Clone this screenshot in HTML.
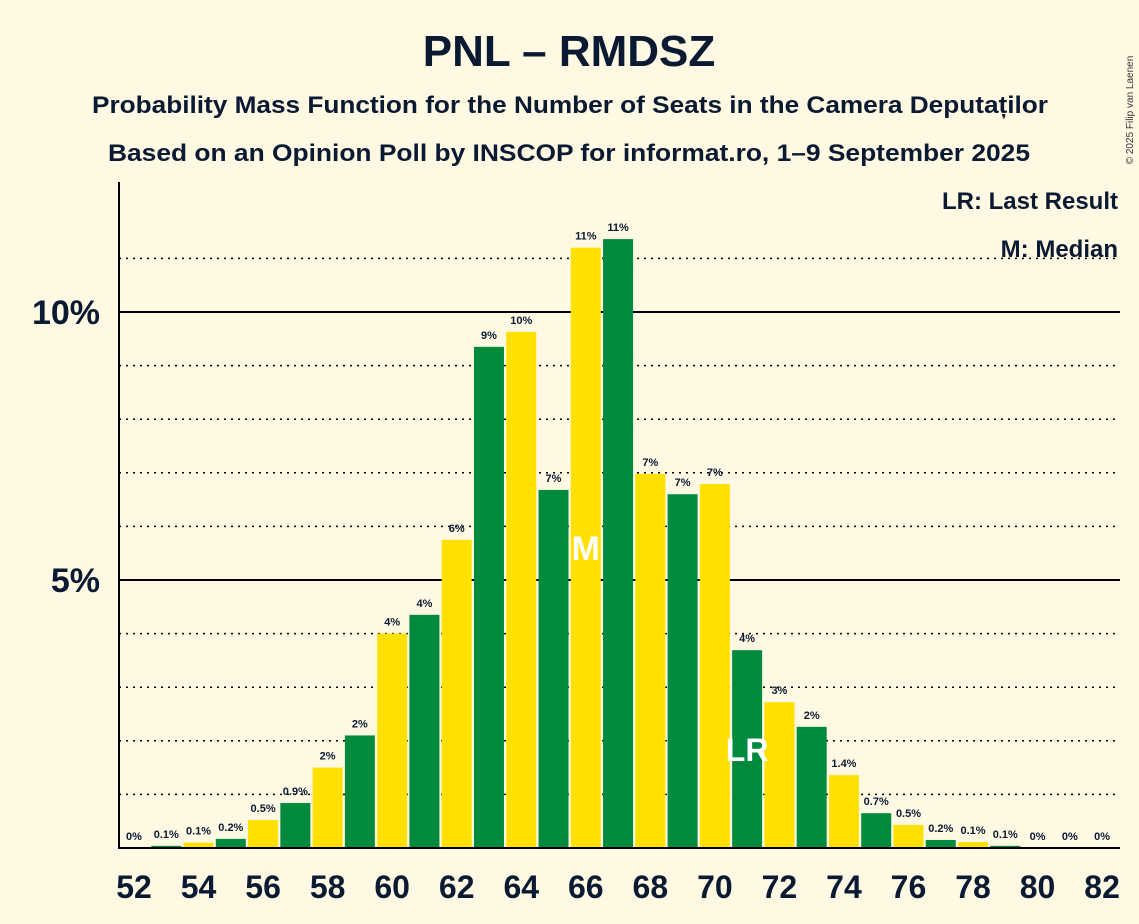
<!DOCTYPE html>
<html><head><meta charset="utf-8"><style>
body{margin:0;background:#fff8e3;}
svg{display:block;font-family:"Liberation Sans",sans-serif;}
</style></head><body>
<svg id="chart" width="1139" height="924" viewBox="0 0 1139 924">
<rect width="1139" height="924" fill="#fff8e3"/>
<text x="569" y="66" text-anchor="middle" font-size="44" font-weight="bold" fill="#0a1a33">PNL – RMDSZ</text>
<text x="570" y="113" text-anchor="middle" font-size="24" font-weight="bold" fill="#0a1a33" textLength="956" lengthAdjust="spacingAndGlyphs">Probability Mass Function for the Number of Seats in the Camera Deputaților</text>
<text x="569" y="161" text-anchor="middle" font-size="24" font-weight="bold" fill="#0a1a33" textLength="922" lengthAdjust="spacingAndGlyphs">Based on an Opinion Poll by INSCOP for informat.ro, 1–9 September 2025</text>
<text x="1133" y="110" font-size="10" fill="#333" transform="rotate(-90 1133 110)" text-anchor="middle">© 2025 Filip van Laenen</text>
<text x="1118" y="209" text-anchor="end" font-size="24" font-weight="bold" fill="#0a1a33">LR: Last Result</text>
<text x="1118" y="257" text-anchor="end" font-size="24" font-weight="bold" fill="#0a1a33">M: Median</text>
<g id="grid"></g><g id="bars"></g><g id="labels"></g>
<line x1="119" y1="182" x2="119" y2="849" stroke="#000" stroke-width="2"/>
<line x1="118" y1="848" x2="1120" y2="848" stroke="#000" stroke-width="2"/>
</svg>
<script>
const seats=[52,53,54,55,56,57,58,59,60,61,62,63,64,65,66,67,68,69,70,71,72,73,74,75,76,77,78,79,80,81,82];
const probs=[0,0.04,0.1,0.17,0.52,0.84,1.5,2.1,4.0,4.35,5.75,9.35,9.63,6.68,11.2,11.36,6.98,6.6,6.79,3.69,2.72,2.26,1.36,0.65,0.43,0.15,0.11,0.04,0,0,0];
const valueLabels=["0%","0.1%","0.1%","0.2%","0.5%","0.9%","2%","2%","4%","4%","6%","9%","10%","7%","11%","11%","7%","7%","7%","4%","3%","2%","1.4%","0.7%","0.5%","0.2%","0.1%","0.1%","0%","0%","0%"];
const xTicks=[52,54,56,58,60,62,64,66,68,70,72,74,76,78,80,82];
const gridValues=[1,2,3,4,5,6,7,8,9,10,11];
const yTickLabels=[[5,"5%"],[10,"10%"]];
const medianSeat=66, lastResultSeat=71;
const NS="http://www.w3.org/2000/svg";
const x=s=>134+(s-52)*32.27;
const y=v=>848-v*53.6;
function mk(t,a,p){const e=document.createElementNS(NS,t);for(const k in a)e.setAttribute(k,a[k]);p.appendChild(e);return e;}
const grid=document.getElementById('grid'),bars=document.getElementById('bars'),labels=document.getElementById('labels'),svg=document.getElementById('chart');
gridValues.forEach(g=>{const solid=g%5===0;
const l=mk('line',{x1:119,x2:1120,y1:y(g),y2:y(g),stroke:'#000','stroke-width':solid?2:1.5,'stroke-dasharray':solid?'':'2,5'},grid);

});
yTickLabels.forEach(([v,t])=>{const e=mk('text',{x:100,y:y(v)+12,'text-anchor':'end','font-size':34,'font-weight':'bold',fill:'#0a1a33'},svg);e.textContent=t;

});
seats.forEach((s,i)=>{const v=probs[i];const h=v*53.6;
const r=mk('rect',{x:x(s)-15,y:848-h,width:30,height:h,fill:i%2===0?'#ffe000':'#008a3e'},bars);


const t=mk('text',{x:x(s),y:y(v)-8,'text-anchor':'middle','font-size':11,'font-weight':'bold',fill:'#0a1a33'},labels);t.textContent=valueLabels[i];


if(s===medianSeat){const m=mk('text',{x:x(s),y:y(v/2)+12,'text-anchor':'middle','font-size':34,'font-weight':'bold',fill:'#fff'},labels);m.textContent='M';

}
if(s===lastResultSeat){const m=mk('text',{x:x(s),y:y(v/2)+12,'text-anchor':'middle','font-size':32,'font-weight':'bold',fill:'#fff'},labels);m.textContent='LR';

}
});
xTicks.forEach(s=>{const t=mk('text',{x:x(s),y:898,'text-anchor':'middle','font-size':32,'font-weight':'bold',fill:'#0a1a33'},svg);t.textContent=s;

});
</script>
</body></html>
